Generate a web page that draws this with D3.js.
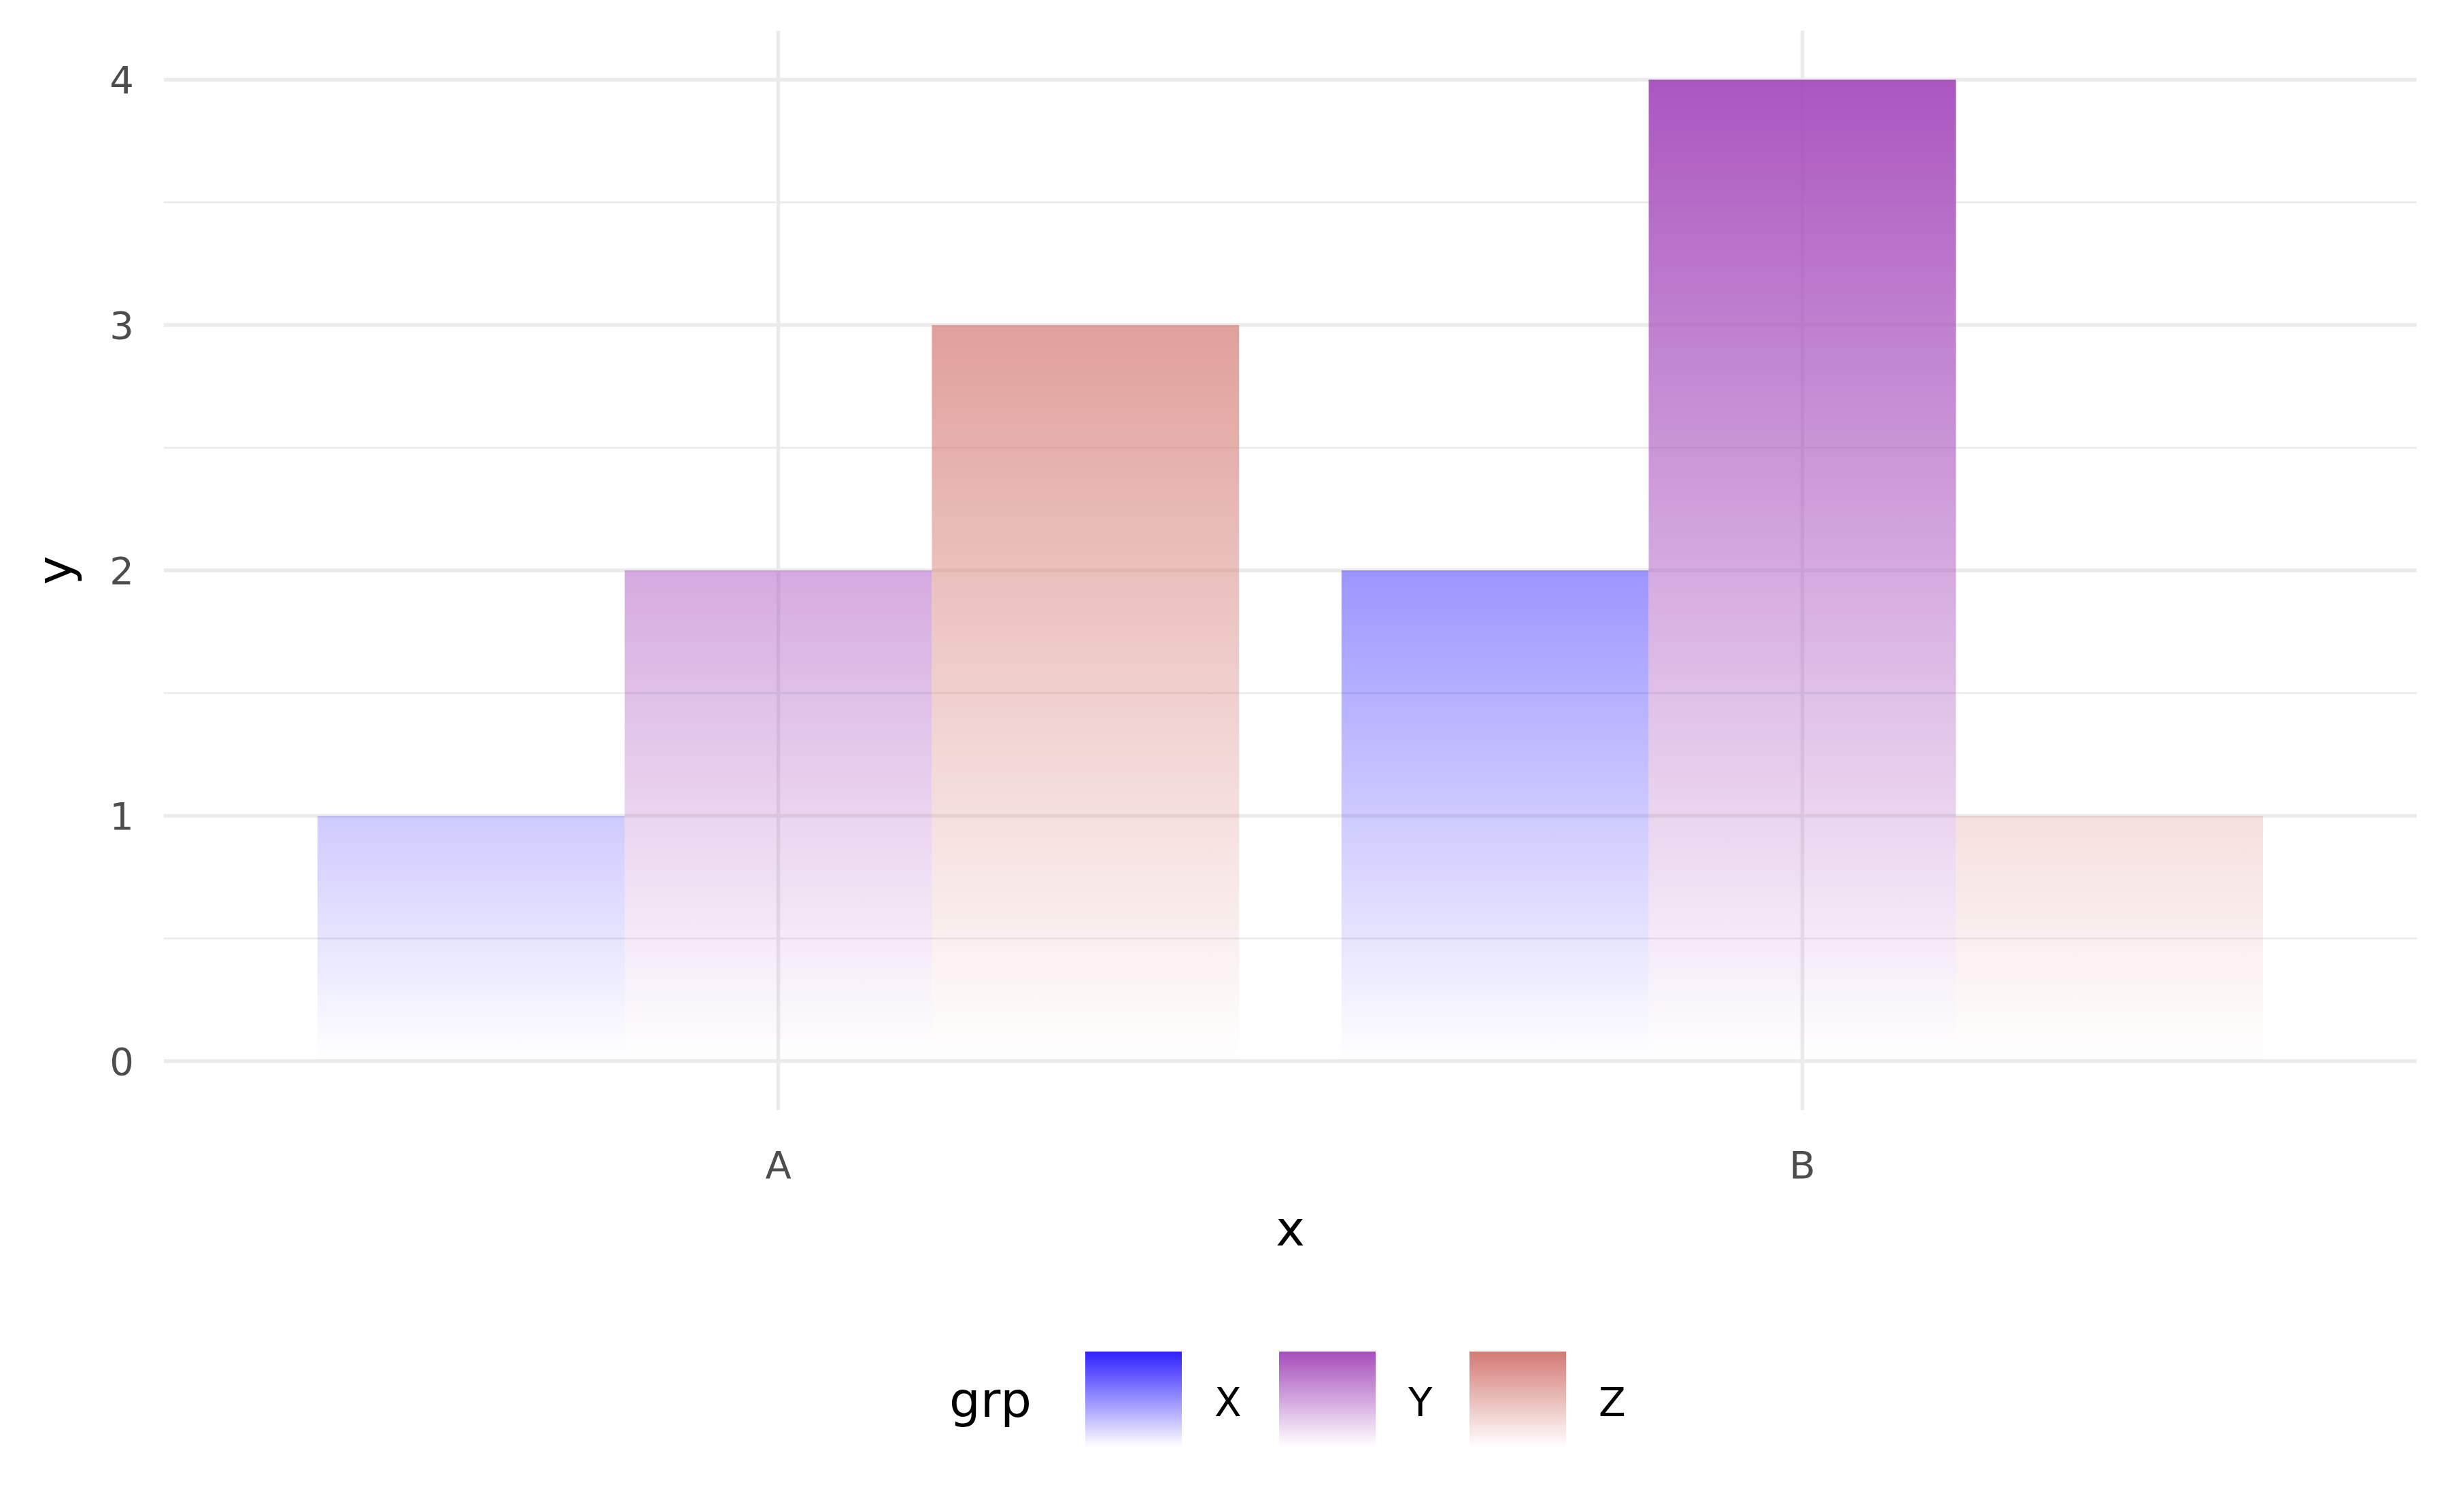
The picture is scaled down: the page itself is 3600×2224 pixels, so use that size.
<!DOCTYPE html><html><head><meta charset="utf-8">
<script src="https://cdn.jsdelivr.net/npm/d3@7"></script>
<style>body{margin:0;background:#fff}</style></head><body><svg id="c" width="3600" height="2224"></svg>
<script>
const categories=["A","B"];
const groups=["X","Y","Z"];
const values={X:[1,2],Y:[2,4],Z:[3,1]};
const colors={X:"#3020ff",Y:"#a64dbc",Z:"#d47a74"};
const yTicks=[0,1,2,3,4];
const svg=d3.select("#c");
const L=241,R=3554,T=45,B=1633;
const x=d3.scaleLinear().domain([0.4,2.6]).range([L,R]);
const y=d3.scaleLinear().domain([-0.2,4.2]).range([B,T]);
const font="DejaVu Sans";
const defs=svg.append("defs");
groups.forEach(g=>{
 const gr=defs.append("linearGradient").attr("id","g"+g).attr("gradientUnits","userSpaceOnUse")
  .attr("x1",0).attr("x2",0).attr("y1",y(0)).attr("y2",y(4));
 gr.append("stop").attr("offset",0).attr("stop-color",colors[g]).attr("stop-opacity",0);
 gr.append("stop").attr("offset",1).attr("stop-color",colors[g]).attr("stop-opacity",0.95);
 const lg=defs.append("linearGradient").attr("id","l"+g).attr("x1",0).attr("x2",0).attr("y1",1).attr("y2",0);
 lg.append("stop").attr("offset",0).attr("stop-color",colors[g]).attr("stop-opacity",0);
 lg.append("stop").attr("offset",1).attr("stop-color",colors[g]).attr("stop-opacity",1);
});
d3.range(-0,4.01,0.5).forEach(v=>{
 const major=Number.isInteger(v);
 svg.append("line").attr("x1",L).attr("x2",R).attr("y1",y(v)).attr("y2",y(v))
  .attr("stroke","#ebebeb").attr("stroke-width",major?5.5:2.8);
});
categories.forEach((c,i)=>svg.append("line").attr("x1",x(i+1)).attr("x2",x(i+1)).attr("y1",T).attr("y2",B)
 .attr("stroke","#ebebeb").attr("stroke-width",5.5));
const bw=0.9/3;
categories.forEach((c,i)=>groups.forEach((g,j)=>{
 const x0=i+1-0.45+j*bw;
 svg.append("rect").attr("x",x(x0)).attr("width",x(x0+bw)-x(x0))
  .attr("y",y(values[g][i])).attr("height",y(0)-y(values[g][i])).attr("fill","url(#g"+g+")");
}));
yTicks.forEach(v=>svg.append("text").attr("x",197).attr("y",y(v)).attr("dy","0.36em").attr("text-anchor","end")
 .attr("font-family",font).attr("font-size",56).attr("fill","#4d4d4d").text(v));
categories.forEach((c,i)=>svg.append("text").attr("x",x(i+1)).attr("y",1733).attr("text-anchor","middle")
 .attr("font-family",font).attr("font-size",56).attr("fill","#4d4d4d").text(c));
svg.append("text").attr("x",x(1.5)).attr("y",1832).attr("text-anchor","middle").attr("font-family",font).attr("font-size",72).text("x");
svg.append("text").attr("transform",`translate(105,${(T+B)/2}) rotate(-90)`).attr("text-anchor","middle").attr("font-family",font).attr("font-size",72).text("y");
svg.append("text").attr("x",1396).attr("y",2062).attr("dy","0.3em").attr("font-family",font).attr("font-size",72).text("grp");
const kx=[1596,1881,2161];
groups.forEach((g,j)=>{
 svg.append("rect").attr("x",kx[j]).attr("y",1988).attr("width",142).attr("height",140).attr("fill","url(#l"+g+")");
 svg.append("text").attr("x",kx[j]+190).attr("y",2062).attr("dy","0.36em").attr("font-family",font).attr("font-size",58).text(g);
});
</script></body></html>
